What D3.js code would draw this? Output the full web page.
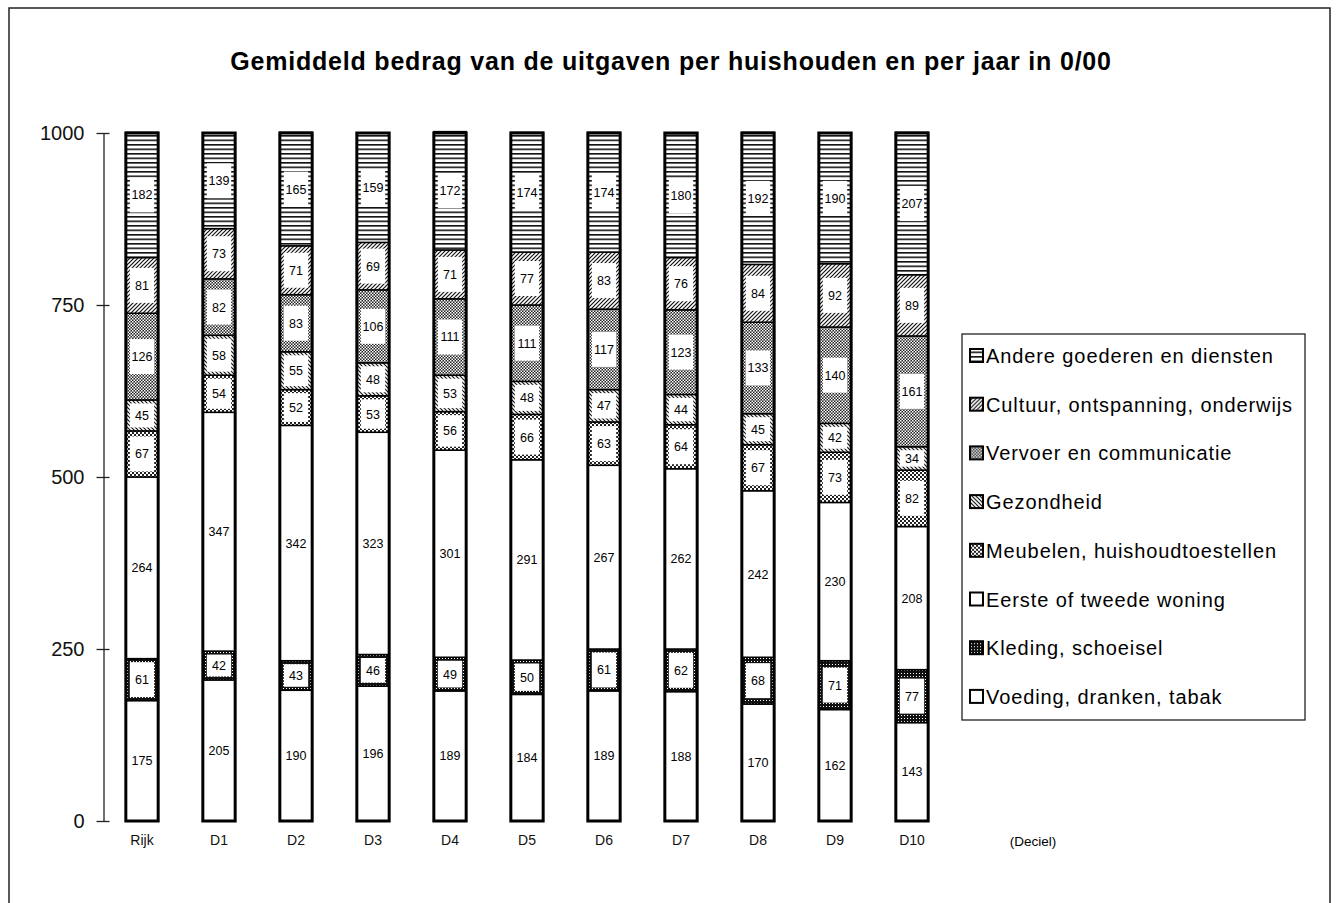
<!DOCTYPE html>
<html>
<head>
<meta charset="utf-8">
<script src="https://cdn.jsdelivr.net/npm/d3@7"></script>
<style>
  body { margin: 0; background: #fff; }
  text { font-family: "Liberation Sans", Arial, sans-serif; }
</style>
</head>
<body>
<script>
// categories on the x axis
const deciles = ["Rijk","D1","D2","D3","D4","D5","D6","D7","D8","D9","D10"]

// series, bottom of the stack first
const seriesNames = [
  "Voeding, dranken, tabak",
  "Kleding, schoeisel",
  "Eerste of tweede woning",
  "Meubelen, huishoudtoestellen",
  "Gezondheid",
  "Vervoer en communicatie",
  "Cultuur, ontspanning, onderwijs",
  "Andere goederen en diensten"
]

const voeding    = [175,205,190,196,189,184,189,188,170,162,143]
const kleding    = [61,42,43,46,49,50,61,62,68,71,77]
const woning     = [264,347,342,323,301,291,267,262,242,230,208]
const meubelen   = [67,54,52,53,56,66,63,64,67,73,82]
const gezondheid = [45,58,55,48,53,48,47,44,45,42,34]
const vervoer    = [126,82,83,106,111,111,117,123,133,140,161]
const cultuur    = [81,73,71,69,71,77,83,76,84,92,89]
const andere     = [182,139,165,159,172,174,174,180,192,190,207]

const yTicks = [0,250,500,750,1000]

const allSeries = [voeding,kleding,woning,meubelen,gezondheid,vervoer,cultuur,andere]

const W = 1337, H = 903

const svg = d3.select("body").append("svg")
  .attr("width", W)
  .attr("height", H)

// fill patterns (scan look)
const defs = svg.append("defs")

function pat(id, size) {
  return defs.append("pattern").attr("id", id)
    .attr("patternUnits","userSpaceOnUse")
    .attr("width", size).attr("height", size)
}
// 0 voeding / 2 woning: plain white
// 1 kleding: black with small white dots
let p = pat("p-kleding", 3)
p.append("rect").attr("width",3).attr("height",3).attr("fill","#111")
p.append("rect").attr("x",1).attr("y",1).attr("width",1).attr("height",1).attr("fill","#fff")
// 3 meubelen: light checker
p = pat("p-meubel", 4)
p.append("rect").attr("width",4).attr("height",4).attr("fill","#fff")
p.append("rect").attr("width",2).attr("height",2).attr("fill","#222")
p.append("rect").attr("x",2).attr("y",2).attr("width",2).attr("height",2).attr("fill","#222")
// 4 gezondheid: backslash hatch
p = pat("p-gez", 4)
p.append("rect").attr("width",4).attr("height",4).attr("fill","#fff")
p.append("path").attr("d","M-1,-1 L5,5 M-1,3 L1,5 M3,-1 L5,1").attr("stroke","#111").attr("stroke-width",1.2)
// 5 vervoer: dense checker
p = pat("p-verv", 3)
p.append("rect").attr("width",3).attr("height",3).attr("fill","#222")
p.append("rect").attr("width",1.5).attr("height",1.5).attr("fill","#fff")
p.append("rect").attr("x",1.5).attr("y",1.5).attr("width",1.5).attr("height",1.5).attr("fill","#fff")
// 6 cultuur: forward slash hatch
p = pat("p-cult", 4)
p.append("rect").attr("width",4).attr("height",4).attr("fill","#fff")
p.append("path").attr("d","M-1,5 L5,-1 M-1,1 L1,-1 M3,5 L5,3").attr("stroke","#111").attr("stroke-width",1.2)
// 7 andere: horizontal lines
p = pat("p-andere", 4.5)
p.append("rect").attr("width",4.5).attr("height",4.5).attr("fill","#fff")
p.append("rect").attr("y",0).attr("width",4.5).attr("height",1.6).attr("fill","#111")

const fills = ["#fff","url(#p-kleding)","#fff","url(#p-meubel)","url(#p-gez)","url(#p-verv)","url(#p-cult)","url(#p-andere)"]

// outer frame
svg.append("path")
  .attr("d", "M9,903 L9,8 L1330,8 L1330,903")
  .attr("fill","none").attr("stroke","#222").attr("stroke-width",1.5)

// title
svg.append("text")
  .attr("x", 671).attr("y", 70)
  .attr("text-anchor","middle")
  .attr("font-weight","bold")
  .attr("font-size", 25)
  .attr("letter-spacing", 0.8)
  .text("Gemiddeld bedrag van de uitgaven per huishouden en per jaar in 0/00")

const x = d3.scaleBand()
  .domain(deciles)
  .range([103.5, 103.5 + 77*11])
  .paddingInner(0.58)
  .paddingOuter(0.29)

const y = d3.scaleLinear()
  .domain([0,1000])
  .range([821,133])

// stacked data
const table = deciles.map((d,i) => {
  const row = {name: d}
  seriesNames.forEach((s,j) => row[s] = allSeries[j][i])
  return row
})
const stacked = d3.stack().keys(seriesNames)(table)

const bw = x.bandwidth()

const layers = svg.selectAll("g.layer")
  .data(stacked)
  .enter()
  .append("g")
  .attr("class","layer")

layers.each(function(layer, j) {
  const g = d3.select(this)
  g.selectAll("rect.seg")
    .data(layer)
    .enter()
    .append("rect")
    .attr("class","seg")
    .attr("x", d => x(d.data.name))
    .attr("y", d => y(d[1]))
    .attr("width", bw)
    .attr("height", d => y(d[0]) - y(d[1]))
    .attr("fill", fills[j])
    .attr("stroke","#000")
    .attr("stroke-width",1.5)

  // white label boxes
  g.selectAll("rect.box")
    .data(layer)
    .enter()
    .append("rect")
    .attr("class","box")
    .attr("x", d => x(d.data.name) + 4)
    .attr("width", bw - 8)
    .attr("y", d => {
      const h = Math.min(y(d[0]) - y(d[1]) - 7, 35)
      return (y(d[0]) + y(d[1]))/2 - h/2
    })
    .attr("height", d => Math.min(y(d[0]) - y(d[1]) - 7, 35))
    .attr("fill","#fff")

  g.selectAll("text")
    .data(layer)
    .enter()
    .append("text")
    .attr("x", d => x(d.data.name) + bw/2)
    .attr("y", d => (y(d[0]) + y(d[1]))/2 + 4.5)
    .attr("text-anchor","middle")
    .attr("font-size", 12.5)
    .text(d => d[1] - d[0])
})

// outer bar outlines
svg.selectAll("rect.outline")
  .data(deciles)
  .enter()
  .append("rect")
  .attr("class","outline")
  .attr("x", d => x(d))
  .attr("y", y(1000))
  .attr("width", bw)
  .attr("height", y(0) - y(1000))
  .attr("fill","none")
  .attr("stroke","#000")
  .attr("stroke-width",3)

// y axis
const yAxis = d3.axisLeft(y)
  .tickValues(yTicks)
  .tickFormat(d3.format("d"))
  .tickSizeInner(7)
  .tickSizeOuter(0)
  .tickPadding(12)

const gy = svg.append("g")
  .attr("transform","translate(103.5,0)")
  .call(yAxis)
gy.select(".domain").attr("stroke","#222").attr("stroke-width",1.3)
gy.selectAll(".tick line").attr("x1",6).attr("stroke","#222").attr("stroke-width",1.3)
gy.selectAll(".tick text")
  .attr("font-family","'Liberation Sans', Arial, sans-serif")
  .attr("font-size",20)
  .attr("fill","#111")

// x labels
const xAxis = d3.axisBottom(x).tickSize(0).tickPadding(14)
const gx = svg.append("g")
  .attr("transform","translate(0,821)")
  .call(xAxis)
gx.select(".domain").remove()
gx.selectAll(".tick text")
  .attr("font-family","'Liberation Sans', Arial, sans-serif")
  .attr("font-size",14)
  .attr("fill","#111")

svg.append("text")
  .attr("x", 1033).attr("y", 846)
  .attr("text-anchor","middle")
  .attr("font-size", 13.5)
  .text("(Deciel)")

// legend
const lg = svg.append("g").attr("transform","translate(962,334)")
lg.append("rect")
  .attr("width", 343).attr("height", 386)
  .attr("fill","#fff").attr("stroke","#222").attr("stroke-width",1.3)

const legendOrder = seriesNames.map((s,i) => ({name: s, fill: fills[i]})).reverse()

const items = lg.selectAll("g.item")
  .data(legendOrder)
  .enter()
  .append("g")
  .attr("class","item")
  .attr("transform", (d,i) => "translate(8," + (22 + i*48.7) + ")")

items.append("rect")
  .attr("x",0).attr("y",-7)
  .attr("width",13).attr("height",13)
  .attr("fill", d => d.fill)
  .attr("stroke","#000").attr("stroke-width",2)

items.append("text")
  .attr("x", 16).attr("y", 7)
  .attr("font-size", 20)
  .attr("letter-spacing", 0.9)
  .text(d => d.name)
</script>
</body>
</html>
